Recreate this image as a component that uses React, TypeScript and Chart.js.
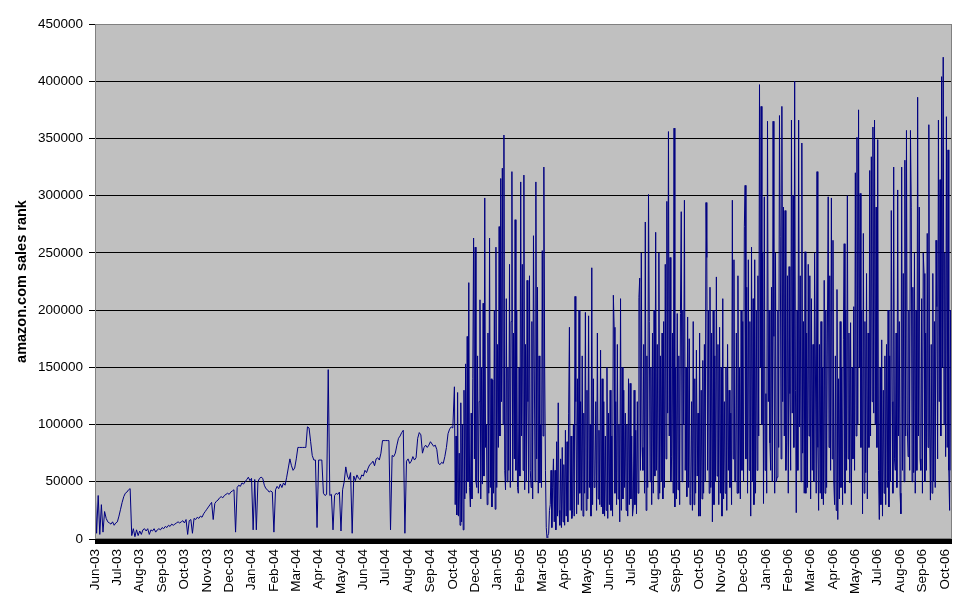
import React, { useEffect, useRef } from 'react';
import { Chart, registerables } from 'chart.js';

Chart.register(...registerables);

// Category labels shown on the x axis (one every `labelInterval` sample slots)
const monthLabels = [
  'Jun-03', 'Jul-03', 'Aug-03', 'Sep-03', 'Oct-03', 'Nov-03', 'Dec-03',
  'Jan-04', 'Feb-04', 'Mar-04', 'Apr-04', 'May-04', 'Jun-04', 'Jul-04', 'Aug-04', 'Sep-04', 'Oct-04',
  'Dec-04',
  'Jan-05', 'Feb-05', 'Mar-05', 'Apr-05', 'May-05', 'Jun-05', 'Jul-05', 'Aug-05', 'Sep-05', 'Oct-05', 'Nov-05', 'Dec-05',
  'Jan-06', 'Feb-06', 'Mar-06', 'Apr-06', 'May-06', 'Jul-06', 'Aug-06', 'Sep-06', 'Oct-06',
];
const labelInterval = 28;

// y axis ticks
const yMax = 450000;
const yStep = 50000;

// Sales rank (thousands), Jun-03 .. Oct-04: sampled every second slot
const earlyRankThousands = [
  47, 5, 38, 4, 30, 6, 24, 18, 15, 14,
  13, 15, 12, 14, 15, 20, 26, 32, 37,
  40, 41, 43, 44, 3, 9, 2, 8, 3, 7,
  4, 8, 9, 7, 9, 4, 8, 7, 9, 6,
  8, 9, 8, 10, 9, 11, 10, 12, 11, 13,
  12, 13, 14, 15, 14, 15, 16, 14, 17,
  4, 16, 17, 5, 18, 17, 19, 18, 20, 19,
  22, 24, 26, 28, 30, 32, 17, 31, 33, 34,
  36, 37, 36, 38, 39, 40, 39, 41, 42,
  43, 6, 45, 47, 46, 49, 48, 50, 52, 54,
  51, 53, 8, 52, 8, 50, 53, 54, 53, 47,
  44, 43, 41, 42, 41, 6, 43, 46, 44, 48,
  45, 49, 47, 54, 62, 70, 64, 60, 62,
  70, 80, 80, 80, 80, 80, 80, 98, 97, 85,
  73, 69, 69, 10, 69, 69, 69, 40, 38, 39,
  148, 38, 39, 8, 38, 40, 39, 41, 7, 43,
  50, 63, 55, 52, 58, 5, 55, 51, 56,
  53, 52, 56, 55, 60, 58, 62, 65, 66, 68,
  64, 70, 71, 69, 75, 86, 86, 86, 86, 86,
  8, 73, 72, 75, 82, 88, 90, 93, 95, 5,
  68, 70, 66, 68, 72, 69, 71, 88, 93,
  91, 75, 80, 82, 80, 82, 85, 83, 81,
  82, 78, 66, 65, 67, 66, 72, 80, 92, 96,
  98, 97,
];

// Sales rank (thousands), Oct-04 .. Oct-06: sampled every slot
const lateRankThousands = [
  133, 30, 90, 21, 128, 20, 75, 12, 119, 15, 100, 8, 130, 35, 153, 40,
  177, 50, 224, 45, 28, 110, 35, 140, 263, 70, 255, 50, 45, 160, 40, 120,
  209, 35, 150, 48, 206, 55, 298, 80, 100, 30, 180, 40, 263, 45, 140, 28,
  139, 40, 200, 26, 255, 45, 170, 80, 273, 90, 315, 120, 324, 100, 353, 60,
  43, 210, 50, 150, 60, 240, 45, 190, 321, 50, 180, 70, 279, 60, 200, 45,
  40, 150, 55, 312, 90, 240, 60, 318, 43, 170, 50, 226, 120, 40, 230, 60,
  45, 190, 35, 265, 150, 50, 312, 70, 220, 40, 160, 49, 100, 45, 252, 90,
  325, 150, 60, 10, 0, 3, 5, 25, 30, 60, 10, 45, 70, 15, 60, 8,
  85, 20, 119, 25, 12, 70, 10, 80, 15, 65, 12, 95, 20, 85, 15, 110,
  185, 25, 90, 18, 25, 100, 20, 212, 120, 22, 140, 30, 200, 40, 120, 25,
  160, 20, 110, 40, 198, 25, 130, 35, 195, 45, 100, 20, 237, 30, 140, 45,
  55, 120, 25, 180, 35, 95, 30, 165, 28, 140, 22, 120, 20, 90, 25, 150,
  18, 110, 30, 130, 25, 90, 20, 213, 185, 40, 120, 30, 170, 35, 100, 15,
  210, 25, 150, 35, 130, 45, 110, 25, 100, 20, 140, 30, 136, 35, 90, 20,
  28, 130, 30, 95, 22, 120, 40, 211, 228, 60, 250, 80, 60, 170, 40, 277,
  25, 160, 45, 301, 190, 50, 150, 30, 180, 40, 200, 55, 268, 60, 170, 35,
  250, 40, 160, 50, 180, 35, 190, 45, 240, 70, 295, 110, 356, 90, 246, 50,
  72, 180, 40, 359, 28, 150, 35, 197, 43, 160, 30, 197, 286, 50, 200, 100,
  296, 60, 150, 37, 194, 45, 175, 30, 40, 120, 25, 190, 30, 140, 40, 165,
  55, 110, 20, 180, 20, 130, 35, 156, 40, 170, 50, 294, 246, 60, 200, 40,
  220, 45, 180, 15, 200, 30, 160, 50, 229, 55, 170, 30, 185, 40, 150, 20,
  210, 35, 120, 40, 150, 25, 170, 60, 130, 45, 110, 30, 296, 70, 244, 50,
  50, 180, 40, 230, 40, 150, 35, 200, 60, 190, 50, 273, 309, 70, 220, 40,
  244, 60, 190, 20, 255, 50, 210, 30, 244, 40, 200, 60, 230, 90, 397, 150,
  378, 100, 250, 31, 299, 60, 127, 40, 365, 120, 200, 84, 60, 220, 50, 365,
  177, 40, 250, 50, 54, 200, 80, 370, 264, 70, 378, 120, 290, 90, 287, 60,
  84, 230, 40, 238, 127, 60, 366, 110, 300, 80, 400, 130, 23, 200, 60, 366,
  98, 230, 50, 346, 75, 190, 40, 251, 40, 180, 45, 240, 90, 230, 35, 210,
  60, 170, 50, 250, 150, 40, 321, 80, 25, 170, 40, 190, 35, 150, 30, 226,
  40, 200, 45, 180, 299, 80, 230, 60, 298, 70, 261, 50, 30, 160, 25, 218,
  17, 140, 35, 190, 45, 150, 30, 174, 258, 40, 200, 60, 300, 70, 180, 49,
  189, 30, 150, 70, 203, 60, 320, 90, 351, 100, 375, 150, 302, 80, 200, 22,
  267, 40, 190, 58, 232, 35, 180, 80, 322, 90, 334, 120, 360, 110, 366, 100,
  290, 80, 349, 60, 17, 150, 30, 174, 20, 130, 40, 160, 30, 170, 45, 200,
  28, 160, 50, 287, 120, 40, 325, 70, 60, 180, 45, 305, 90, 190, 40, 22,
  325, 60, 232, 50, 331, 90, 357, 100, 72, 200, 60, 357, 290, 50, 220, 58,
  250, 40, 200, 60, 386, 90, 290, 70, 60, 210, 40, 250, 232, 50, 180, 60,
  267, 80, 362, 100, 34, 170, 40, 232, 50, 190, 45, 261, 203, 70, 366, 120,
  314, 90, 404, 150, 421, 100, 250, 72, 369, 80, 340, 60, 25, 200, 60, 327,
];

const earlySlotStep = 2;

const FONT = "'Liberation Sans', Arial, Helvetica, sans-serif";

export default function App() {
  const canvasRef = useRef<HTMLCanvasElement | null>(null);

  useEffect(() => {
    document.body.style.margin = '0';
    const canvas = canvasRef.current;
    if (!canvas) return;

    const lateStart = earlyRankThousands.length * earlySlotStep;
    const points = [
      ...earlyRankThousands.map((v, i) => ({ x: i * earlySlotStep, y: v * 1000 })),
      ...lateRankThousands.map((v, i) => ({ x: lateStart + i, y: v * 1000 })),
    ];
    const lastSlot = lateStart + lateRankThousands.length - 1;

    const plotDecor = {
      id: 'plotDecor',
      beforeDraw(chart: any) {
        const { ctx, chartArea: a } = chart;
        ctx.save();
        ctx.fillStyle = '#C0C0C0';
        ctx.fillRect(a.left, a.top, a.right - a.left, a.bottom - a.top);
        ctx.restore();
      },
      afterDraw(chart: any) {
        const { ctx, chartArea: a } = chart;
        ctx.save();
        ctx.strokeStyle = '#808080';
        ctx.lineWidth = 1;
        ctx.strokeRect(a.left + 0.5, a.top + 0.5, a.right - a.left - 1, a.bottom - a.top - 1);
        ctx.fillStyle = '#000000';
        ctx.fillRect(a.left, a.bottom, a.right - a.left, 5);
        ctx.restore();
      },
    };

    const chart = new Chart(canvas, {
      type: 'line',
      data: {
        datasets: [
          {
            data: points,
            borderColor: '#000080',
            borderWidth: 1,
            pointRadius: 0,
            pointHoverRadius: 0,
            tension: 0,
            fill: false,
          },
        ],
      },
      options: {
        responsive: false,
        animation: false,
        events: [],
        layout: { padding: { top: 24, right: 12, left: 0, bottom: 0 } },
        plugins: {
          legend: { display: false },
          tooltip: { enabled: false },
          title: { display: false },
        },
        scales: {
          x: {
            type: 'linear',
            min: 0,
            max: lastSlot,
            afterBuildTicks: (s: any) => {
              s.ticks = monthLabels.map((_, k) => ({ value: k * labelInterval }));
            },
            afterFit: (s: any) => {
              s.height = 69;
              s.paddingLeft = 0;
              s.paddingRight = 0;
            },
            grid: { display: false, drawTicks: false },
            border: { display: false },
            ticks: {
              autoSkip: false,
              minRotation: 90,
              maxRotation: 90,
              color: '#000',
              padding: 10,
              font: { family: FONT, size: 13.5 },
              callback: (v: any) => monthLabels[Math.round(Number(v) / labelInterval)] ?? '',
            },
          },
          y: {
            min: 0,
            max: yMax,
            afterFit: (s: any) => {
              s.width = 95;
            },
            ticks: {
              stepSize: yStep,
              color: '#000',
              padding: 6,
              font: { family: FONT, size: 13.5 },
              callback: (v: any) => String(v),
            },
            grid: { color: '#000', lineWidth: 1, tickLength: 6, drawTicks: true },
            border: { display: true, color: '#808080', width: 1 },
            title: {
              display: true,
              text: 'amazon.com sales rank',
              color: '#000',
              font: { family: FONT, size: 14.5, weight: 'bold' },
              padding: { top: 13, bottom: 0 },
            },
          },
        },
      },
      plugins: [plotDecor],
    });

    return () => chart.destroy();
  }, []);

  return (
    <div style={{ width: 964, height: 608 }}>
      <canvas ref={canvasRef} width={964} height={608} style={{ display: 'block' }} />
    </div>
  );
}
